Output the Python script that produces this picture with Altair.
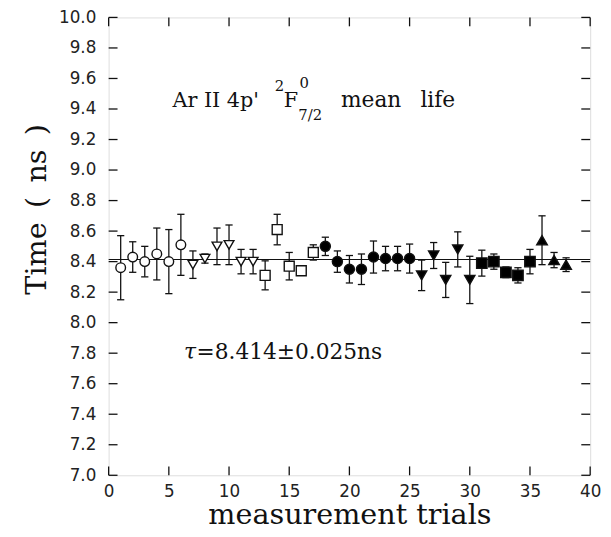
import altair as alt
import pandas as pd

# ---------------- data ----------------
trials = list(range(1, 39))
times = [8.36, 8.43, 8.40, 8.45, 8.40, 8.51,
         8.38, 8.42, 8.50, 8.51, 8.40, 8.40,
         8.31, 8.61, 8.37, 8.34, 8.46,
         8.50, 8.40, 8.35, 8.35, 8.43, 8.42, 8.42, 8.42,
         8.31, 8.44, 8.28, 8.48, 8.28,
         8.39, 8.40, 8.33, 8.31, 8.40,
         8.54, 8.41, 8.38]
errors = [0.21, 0.10, 0.10, 0.17, 0.21, 0.20,
          0.09, 0.03, 0.12, 0.13, 0.08, 0.08,
          0.095, 0.10, 0.09, 0.03, 0.05,
          0.06, 0.07, 0.09, 0.10, 0.105, 0.08, 0.08, 0.095,
          0.10, 0.085, 0.115, 0.115, 0.155,
          0.085, 0.05, 0.035, 0.05, 0.08,
          0.16, 0.05, 0.045]
groups = (["A"] * 6 + ["B"] * 6 + ["C"] * 5 + ["D"] * 8 +
          ["E"] * 5 + ["F"] * 5 + ["G"] * 3)
group_names = ["A", "B", "C", "D", "E", "F", "G"]
group_shapes = ["circle", "triangle-down", "square", "circle",
                "triangle-down", "square", "triangle-up"]
group_fills = ["white", "white", "white", "black", "black", "black", "black"]
group_sizes = [95, 115, 95, 95, 115, 100, 115]
fit_value = 8.414
y_ticks = [7.0, 7.2, 7.4, 7.6, 7.8, 8.0, 8.2, 8.4, 8.6, 8.8,
           9.0, 9.2, 9.4, 9.6, 9.8, 10.0]
x_ticks = [0, 5, 10, 15, 20, 25, 30, 35, 40]

W, H = 488, 464
X0, X1, Y0, Y1 = 0, 40, 7.0, 10.0
TICK_PX = 9
tick_dx = TICK_PX * (X1 - X0) / W
tick_dy = TICK_PX * (Y1 - Y0) / H

df = pd.DataFrame({"trial": trials, "time": times, "err": errors, "group": groups})
df["lo"] = df["time"] - df["err"]
df["hi"] = df["time"] + df["err"]
df["xl"] = df["trial"] - 0.3
df["xr"] = df["trial"] + 0.3

# inward tick segments: horizontal ones (left/right) and vertical ones (bottom/top)
htk = pd.DataFrame({"ty": y_ticks * 2,
                    "tx1": [X0] * len(y_ticks) + [X1 - tick_dx] * len(y_ticks),
                    "tx2": [X0 + tick_dx] * len(y_ticks) + [X1] * len(y_ticks)})
vtk = pd.DataFrame({"tx": x_ticks * 2,
                    "ty1": [Y0] * len(x_ticks) + [Y1 - tick_dy] * len(x_ticks),
                    "ty2": [Y0 + tick_dy] * len(x_ticks) + [Y1] * len(x_ticks)})

serif = "DejaVu Serif"
sans = "DejaVu Sans"

x_scale = alt.Scale(domain=[X0, X1], nice=False, zero=False)
y_scale = alt.Scale(domain=[Y0, Y1], nice=False, zero=False)
x_axis = alt.Axis(values=x_ticks, format="d", ticks=False, tickSize=0, domain=False,
                  grid=False, labelFlush=False, labelFont=sans, labelFontSize=17,
                  labelColor="#222", labelPadding=9, title="measurement trials",
                  titleFont=serif, titleFontSize=29, titleFontWeight="normal",
                  titleColor="#111", titleBaseline="alphabetic", titleY=49, titleX=W / 2)
y_axis = alt.Axis(values=y_ticks, format=".1f", ticks=False, tickSize=0, domain=False,
                  grid=False, labelFlush=False, labelFont=sans, labelFontSize=17,
                  labelColor="#222", labelPadding=13, title="Time\u2002(\u2002ns\u2002)",
                  titleFont=serif, titleFontSize=29, titleFontWeight="normal",
                  titleColor="#111", titleBaseline="alphabetic", titleAngle=-90,
                  titleX=-64, titleY=194)

X = lambda f: alt.X(f, type="quantitative", scale=x_scale, axis=x_axis)
Y = lambda f: alt.Y(f, type="quantitative", scale=y_scale, axis=y_axis)

base = alt.Chart(df)

fit = alt.Chart(pd.DataFrame({"v": [fit_value]})).mark_rule(
    color="#111", strokeWidth=1.1).encode(y=Y("v"))

bars = base.mark_rule(color="#111", strokeWidth=1.3).encode(
    x=X("trial"), y=Y("lo"), y2="hi")
caps_lo = base.mark_rule(color="#111", strokeWidth=1.3).encode(
    x=X("xl"), x2="xr", y=Y("lo"))
caps_hi = base.mark_rule(color="#111", strokeWidth=1.3).encode(
    x=X("xl"), x2="xr", y=Y("hi"))

points = base.mark_point(filled=False, stroke="#111", strokeWidth=1.4,
                         opacity=1, fillOpacity=1).encode(
    x=X("trial"), y=Y("time"),
    shape=alt.Shape("group:N", scale=alt.Scale(domain=group_names, range=group_shapes), legend=None),
    fill=alt.Fill("group:N", scale=alt.Scale(domain=group_names, range=group_fills), legend=None),
    size=alt.Size("group:N", scale=alt.Scale(domain=group_names, range=group_sizes), legend=None),
)

hticks = alt.Chart(htk).mark_rule(color="#111", strokeWidth=1.3).encode(
    x=X("tx1"), x2="tx2", y=Y("ty"))
vticks = alt.Chart(vtk).mark_rule(color="#111", strokeWidth=1.3).encode(
    x=X("tx"), y=Y("ty1"), y2="ty2")

# ---------------- annotations ----------------
ann_text = ["Ar II 4p'", "2", "F", "0", "7/2", "mean", "life"]
ann_x = [5.3, 13.8, 14.55, 15.85, 15.75, 19.3, 25.9]
ann_y = [9.41, 9.515, 9.41, 9.535, 9.33, 9.41, 9.41]
ann_size = [21, 15, 21, 15, 15, 22, 22]
ann = alt.Chart(pd.DataFrame({"t": ann_text, "x": ann_x, "y": ann_y, "s": ann_size})).mark_text(
    font=serif, align="left", baseline="alphabetic", color="#111").encode(
    x=X("x"), y=Y("y"), text="t:N",
    size=alt.Size("s:Q", scale=None, legend=None))

tau = alt.Chart(pd.DataFrame({"t": ["\u03c4"], "x": [6.25], "y": [7.76]})).mark_text(
    font=serif, fontStyle="italic", fontSize=22, align="left", baseline="alphabetic",
    color="#111").encode(x=X("x"), y=Y("y"), text="t:N")
tau_val = alt.Chart(pd.DataFrame({"t": ["=8.414\u00b10.025ns"], "x": [7.3], "y": [7.76]})).mark_text(
    font=serif, fontSize=22, align="left", baseline="alphabetic",
    color="#111").encode(x=X("x"), y=Y("y"), text="t:N")

chart = alt.layer(fit, bars, caps_lo, caps_hi, points, hticks, vticks, ann, tau, tau_val).properties(
    width=W, height=H,
    autosize=alt.AutoSizeParams(type="none"),
    padding={"left": 102, "top": 6, "right": 13, "bottom": 59},
).configure_view(stroke="#111", strokeWidth=1.2).configure(background="white")

chart.save("out.html", embed_options={"renderer": "svg", "actions": False})
